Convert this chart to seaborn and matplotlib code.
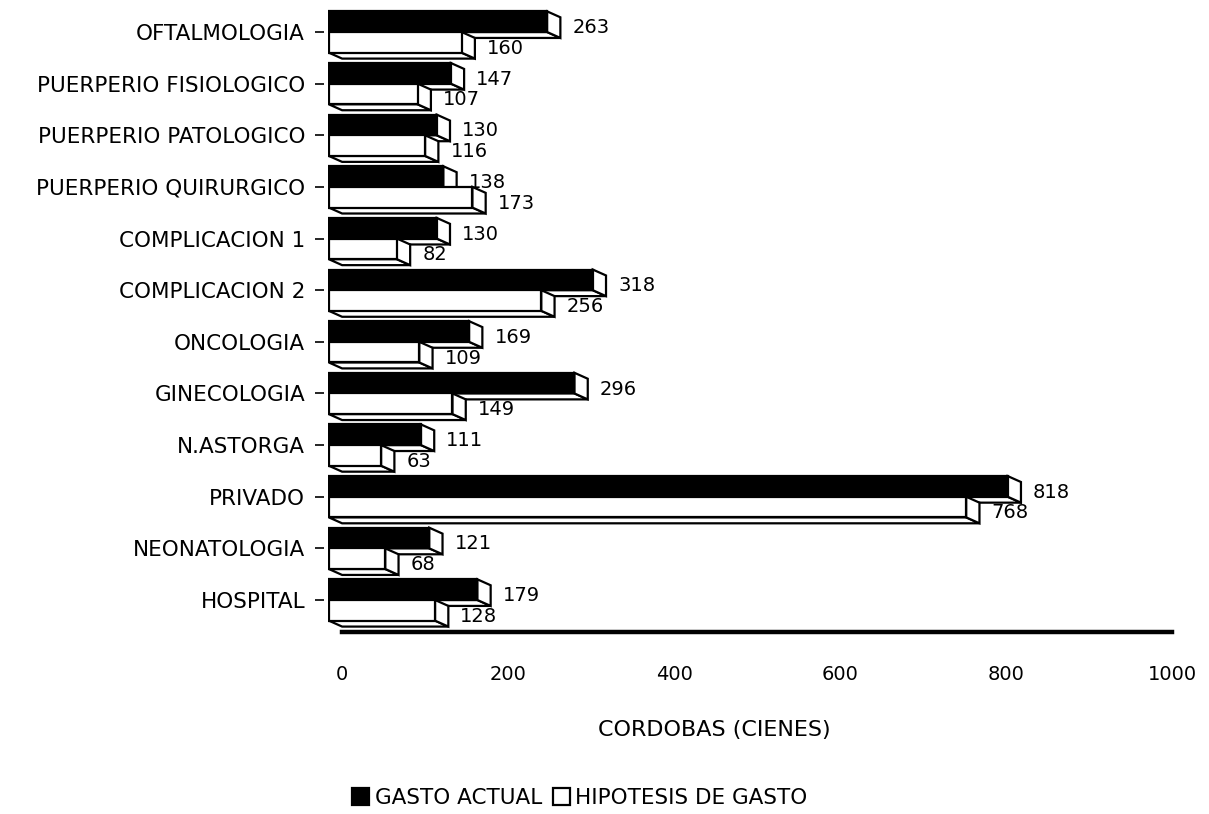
import matplotlib
matplotlib.use("Agg")
import matplotlib.pyplot as plt
import numpy as np
import pandas as pd
import seaborn as sns
from matplotlib.patches import Polygon

# ---- data -------------------------------------------------------------
categories = [
    "OFTALMOLOGIA",
    "PUERPERIO FISIOLOGICO",
    "PUERPERIO PATOLOGICO",
    "PUERPERIO QUIRURGICO",
    "COMPLICACION 1",
    "COMPLICACION 2",
    "ONCOLOGIA",
    "GINECOLOGIA",
    "N.ASTORGA",
    "PRIVADO",
    "NEONATOLOGIA",
    "HOSPITAL",
]
gasto_actual = [263, 147, 130, 138, 130, 318, 169, 296, 111, 818, 121, 179]
hipotesis_gasto = [160, 107, 116, 173, 82, 256, 109, 149, 63, 768, 68, 128]
series_names = ["GASTO ACTUAL", "HIPOTESIS DE GASTO"]
x_ticks = [0, 200, 400, 600, 800, 1000]
x_label = "CORDOBAS (CIENES)"

df = pd.DataFrame({
    "categoria": categories * 2,
    "serie": [series_names[0]] * len(categories) + [series_names[1]] * len(categories),
    "valor": gasto_actual + hipotesis_gasto,
})

# ---- style ------------------------------------------------------------
sns.set_style("white")
plt.rcParams["font.family"] = ["DejaVu Sans"]
plt.rcParams["text.color"] = "black"
plt.rcParams["axes.labelcolor"] = "black"
plt.rcParams["xtick.color"] = "black"
plt.rcParams["ytick.color"] = "black"

W, H = 1209, 814
fig = plt.figure(figsize=(W / 100, H / 100), dpi=100)
ax = fig.add_axes([328 / W, 1 - 632 / H, 844 / W, 632 / H])

LW = 1.6
palette = {series_names[0]: "black", series_names[1]: "white"}
sns.barplot(
    data=df, y="categoria", x="valor", hue="serie", orient="h",
    order=categories, hue_order=series_names, palette=palette,
    edgecolor="black", linewidth=LW, width=0.8, saturation=1,
    ax=ax, zorder=3,
)

# ---- 3-D look: shift the front faces, add end caps and bottom faces ----
DX = 16.0    # depth in value units (to the right)
DY = 0.115   # depth in category units (downward)
for cont in ax.containers:
    for rect in cont.patches:
        v = rect.get_width()
        y0 = rect.get_y()
        y1 = y0 + rect.get_height()
        rect.set_x(rect.get_x() - DX)
        xf = v - DX
        cap = Polygon([(xf, y0), (v, y0 + DY), (v, y1 + DY), (xf, y1)],
                      closed=True, facecolor="white", edgecolor="black",
                      linewidth=LW, zorder=2)
        bottom = Polygon([(-DX, y1), (xf, y1), (v, y1 + DY), (0, y1 + DY)],
                         closed=True, facecolor="white", edgecolor="black",
                         linewidth=LW, zorder=2)
        ax.add_patch(bottom)
        ax.add_patch(cap)
        ax.text(v + 14.5, (y0 + y1) / 2 + DY, f"{int(round(v))}",
                ha="left", va="center", fontsize=14, color="black", zorder=4)

# ---- axes -------------------------------------------------------------
ax.set_xlim(-17, 1000)
ax.set_ylim(len(categories) - 1 + 0.62, -0.62)
ax.set_xticks(x_ticks)
ax.set_xticklabels([str(t) for t in x_ticks])
ax.tick_params(axis="x", bottom=False, length=0, pad=24,
               labelsize=14, labelcolor="black")
ax.set_yticks(range(len(categories)))
ax.set_yticklabels(categories)
ax.tick_params(axis="y", left=True, length=6.5, width=1.2, pad=7,
               color="black", labelsize=15.5, labelcolor="black")

for side in ("top", "right"):
    ax.spines[side].set_visible(False)
ax.spines["left"].set_position(("outward", 3))
ax.spines["left"].set_visible(False)
ax.spines["bottom"].set_bounds(0, 1000)
ax.spines["bottom"].set_linewidth(3.2)
ax.spines["bottom"].set_color("black")

ax.set_ylabel("")
ax.set_xlabel(x_label, fontsize=16, color="black")
ax.xaxis.set_label_coords((714 - 328) / 844, (632 - 720) / 632)

# ---- legend below the chart -----------------------------------------
leg = ax.get_legend()
handles = leg.legend_handles
labels = [t.get_text() for t in leg.get_texts()]
leg.remove()
fig.legend(
    handles, labels, loc="center left",
    bbox_to_anchor=(352 / W, 1 - 798 / H), ncol=2, frameon=False,
    fontsize=15.5, handlelength=0.8, handleheight=0.8,
    handletextpad=0.25, columnspacing=0.5, borderpad=0, borderaxespad=0,
)

fig.savefig("out.png", dpi=100, facecolor="white")
